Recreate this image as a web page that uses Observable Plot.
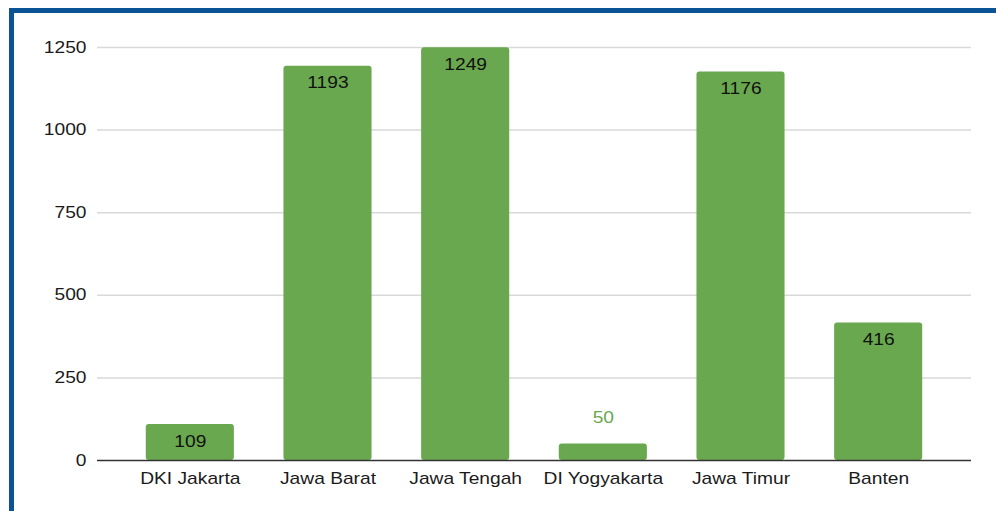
<!DOCTYPE html>
<html>
<head>
<meta charset="utf-8">
<script src="https://cdn.jsdelivr.net/npm/d3@7"></script>
<script src="https://cdn.jsdelivr.net/npm/@observablehq/plot@0.6"></script>
<style>
  html, body { margin: 0; padding: 0; background: #fff; }
  #wrap { position: relative; width: 996px; height: 511px; overflow: hidden; }
  #frame { position: absolute; left: 9px; top: 8px; right: 0; bottom: -10px;
           border-top: 5px solid #0b5394; border-left: 5px solid #0b5394; pointer-events: none; }
  #chart { position: absolute; left: 0; top: 0; }
</style>
</head>
<body>
<div id="wrap"><div id="chart"></div><div id="frame"></div></div>
<script>
const provinces = ["DKI Jakarta", "Jawa Barat", "Jawa Tengah", "DI Yogyakarta", "Jawa Timur", "Banten"];
const counts = [109, 1193, 1249, 50, 1176, 416];
const yTicks = [0, 250, 500, 750, 1000, 1250];

const data = provinces.map((p, i) => ({province: p, value: counts[i]}));
const inside = data.filter(d => d.value >= 100);
const outside = data.filter(d => d.value < 100);

const font = "'Liberation Sans', Arial, sans-serif";
const chart = Plot.plot({
  width: 996,
  height: 511,
  marginTop: 47,
  marginBottom: 51,
  marginLeft: 97,
  marginRight: 25,
  style: {fontFamily: font, fontSize: "16px", color: "#1a1a1a", background: "transparent"},
  x: {domain: provinces, label: null, round: false, paddingInner: 0.36, paddingOuter: 0.18, insetLeft: 24, insetRight: 24, tickSize: 0, tickPadding: 12},
  y: {domain: [0, 1250], ticks: yTicks, label: null, tickSize: 0, tickPadding: 11, tickFormat: d => String(d)},
  marks: [
    Plot.ruleY(yTicks.filter(t => t > 0), {stroke: "#d9d9d9", strokeWidth: 1.5}),
    Plot.barY(data, {x: "province", y: "value", fill: "#6aa84f", rx: 3}),
    Plot.ruleY([0], {stroke: "#333", strokeWidth: 1.5}),
    Plot.text(inside, {x: "province", y: "value", text: d => String(d.value), dy: 17, fill: "#111", fontSize: 16}),
    Plot.text(outside, {x: "province", y: "value", text: d => String(d.value), dy: -26, fill: "#6aa84f", fontSize: 16})
  ]
});
// widen glyphs horizontally around each label's anchor, as in the reference rendering
chart.querySelectorAll("text").forEach(t => {
  const tr = t.getAttribute("transform");
  if (tr) t.setAttribute("transform", tr + " scale(1.2,1)");
});
document.getElementById("chart").appendChild(chart);
</script>
</body>
</html>
